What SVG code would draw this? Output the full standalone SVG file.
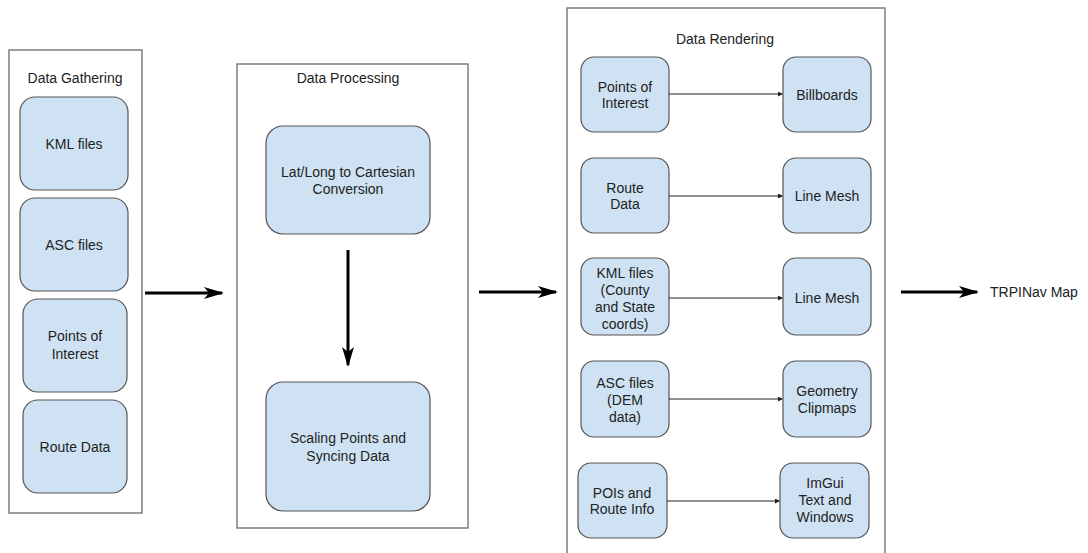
<svg xmlns="http://www.w3.org/2000/svg" width="1088" height="553" viewBox="0 0 1088 553">
<style>
.c{fill:#fff;stroke:#6b6b6b;stroke-width:1.3}
.b{fill:#cfe2f3;stroke:#555;stroke-width:1.2}
text{font-family:"Liberation Sans",Arial,sans-serif;font-size:14px;fill:#222;text-anchor:middle;dominant-baseline:central}
.big{stroke:#000;stroke-width:3;fill:none}
.thin{stroke:#222;stroke-width:1;fill:none}
</style>
<defs>
<marker id="ab" markerWidth="20" markerHeight="12" refX="18" refY="6" orient="auto" markerUnits="userSpaceOnUse">
<path d="M0,0 L20,6 L0,12 L5,6 Z" fill="#000"/>
</marker>
<marker id="as" markerWidth="5" markerHeight="5" refX="4" refY="2.5" orient="auto" markerUnits="userSpaceOnUse">
<path d="M0,0 L5,2.5 L0,5 Z" fill="#222"/>
</marker>
</defs>
<rect width="1088" height="553" fill="#fff"/>

<g id="gathering">
<rect class="c" x="9" y="50" width="133" height="463"/>
<text x="75" y="78">Data Gathering</text>
</g>
<g id="kml1"><rect class="b" x="20" y="97" width="108" height="93" rx="15"/><text x="74" y="144">KML files</text></g>
<g id="asc1"><rect class="b" x="20" y="198" width="108" height="93" rx="15"/><text x="74" y="245">ASC files</text></g>
<g id="poi1"><rect class="b" x="23" y="299" width="104" height="93" rx="15"/><text x="75" y="336">Points of</text><text x="75" y="354">Interest</text></g>
<g id="route1"><rect class="b" x="23" y="400" width="104" height="93" rx="15"/><text x="75" y="447">Route Data</text></g>

<g id="processing">
<rect class="c" x="237" y="64" width="231" height="464"/>
<text x="348" y="78">Data Processing</text>
</g>
<g id="latlong"><rect class="b" x="266" y="126" width="164" height="108" rx="17"/><text x="348" y="172">Lat/Long to Cartesian</text><text x="348" y="189">Conversion</text></g>
<g id="scaling"><rect class="b" x="266" y="382" width="164" height="129" rx="17"/><text x="348" y="438">Scaling Points and</text><text x="348" y="456">Syncing Data</text></g>

<g id="rendering">
<rect class="c" x="567" y="8" width="318" height="560"/>
<text x="725" y="39">Data Rendering</text>
</g>
<g id="r-poi"><rect class="b" x="581" y="57" width="88" height="75" rx="13"/><text x="625" y="87">Points of</text><text x="625" y="103">Interest</text></g>
<g id="r-bill"><rect class="b" x="783" y="57" width="88" height="75" rx="13"/><text x="827" y="95">Billboards</text></g>
<g id="r-route"><rect class="b" x="581" y="158" width="88" height="75" rx="13"/><text x="625" y="188">Route</text><text x="625" y="204">Data</text></g>
<g id="r-line1"><rect class="b" x="783" y="158" width="88" height="75" rx="13"/><text x="827" y="196">Line Mesh</text></g>
<g id="r-kml"><rect class="b" x="581" y="258" width="88" height="77" rx="13"/><text x="625" y="273">KML files</text><text x="625" y="290">(County</text><text x="625" y="307">and State</text><text x="625" y="324">coords)</text></g>
<g id="r-line2"><rect class="b" x="783" y="258" width="88" height="77" rx="13"/><text x="827" y="298">Line Mesh</text></g>
<g id="r-asc"><rect class="b" x="581" y="361" width="88" height="76" rx="13"/><text x="625" y="383">ASC files</text><text x="625" y="400">(DEM</text><text x="625" y="417">data)</text></g>
<g id="r-geo"><rect class="b" x="783" y="361" width="88" height="76" rx="13"/><text x="827" y="391">Geometry</text><text x="827" y="408">Clipmaps</text></g>
<g id="r-pois"><rect class="b" x="578" y="463" width="89" height="75" rx="13"/><text x="622" y="493">POIs and</text><text x="622" y="509">Route Info</text></g>
<g id="r-imgui"><rect class="b" x="780" y="463" width="89" height="75" rx="13"/><text x="825" y="483">ImGui</text><text x="825" y="500">Text and</text><text x="825" y="517">Windows</text></g>

<g id="output"><text x="990" y="292" style="text-anchor:start">TRPINav Map</text></g>

<g id="connectors">
<line class="big" x1="145" y1="293" x2="222" y2="293" marker-end="url(#ab)"/>
<line class="big" x1="348" y1="250" x2="348" y2="365" marker-end="url(#ab)"/>
<line class="big" x1="479" y1="292" x2="556" y2="292" marker-end="url(#ab)"/>
<line class="big" x1="901" y1="292" x2="977" y2="292" marker-end="url(#ab)"/>
<line class="thin" x1="669" y1="94" x2="782" y2="94" marker-end="url(#as)"/>
<line class="thin" x1="669" y1="196" x2="782" y2="196" marker-end="url(#as)"/>
<line class="thin" x1="669" y1="298" x2="782" y2="298" marker-end="url(#as)"/>
<line class="thin" x1="669" y1="399" x2="782" y2="399" marker-end="url(#as)"/>
<line class="thin" x1="667" y1="501" x2="779" y2="501" marker-end="url(#as)"/>
</g>
</svg>
